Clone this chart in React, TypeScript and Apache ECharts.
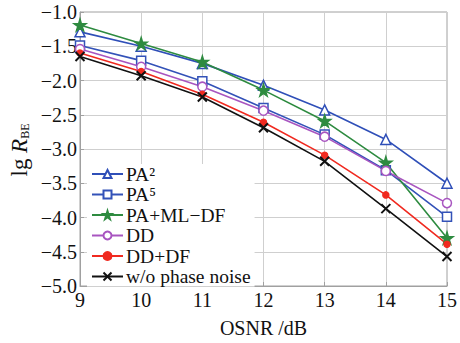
import React, { useEffect, useRef } from "react";
import * as echarts from "echarts";

const osnr = [9, 10, 11, 12, 13, 14, 15];
const pa2 = [-1.29, -1.5, -1.75, -2.07, -2.43, -2.86, -3.5];
const pa5 = [-1.49, -1.71, -2.01, -2.4, -2.79, -3.31, -3.99];
const paMlDf = [-1.19, -1.46, -1.73, -2.14, -2.59, -3.2, -4.3];
const dd = [-1.54, -1.8, -2.09, -2.44, -2.82, -3.32, -3.79];
const ddDf = [-1.6, -1.87, -2.2, -2.61, -3.09, -3.67, -4.39];
const noPn = [-1.65, -1.93, -2.24, -2.69, -3.18, -3.87, -4.57];

const names = ["PA²", "PA⁵", "PA+ML−DF", "DD", "DD+DF", "w/o phase noise"];
const FONT = "'Liberation Serif', 'DejaVu Serif', serif";

const STAR = "path://M50,0 L61,35 L98,35 L68,57 L79,91 L50,70 L21,91 L32,57 L2,35 L39,35 Z";
const CROSS = "path://M0,0 L10,10 M10,0 L0,10";

export default function App() {
  const ref = useRef<HTMLDivElement>(null);
  useEffect(() => {
    const chart = echarts.init(ref.current!, null, { renderer: "svg" });
    const mk = (name: string, data: number[], color: string, symbol: string, size: number, empty: boolean, extra: any = {}) => ({
      name,
      type: "line",
      data: osnr.map((x, i) => [x, data[i]]),
      symbol,
      symbolSize: size,
      showSymbol: true,
      lineStyle: { color, width: 1.6 },
      itemStyle: {
        color: empty ? "#ffffff" : color,
        borderColor: color,
        borderWidth: 1.5,
        ...extra,
      },
      z: 3,
    });
    chart.setOption({
      animation: false,
      backgroundColor: "#ffffff",
      grid: {
        left: 80,
        right: 7,
        top: 12,
        bottom: 52,
        show: true,
        borderColor: "#a0a0a0",
        borderWidth: 1,
      },
      xAxis: {
        type: "value",
        min: 9,
        max: 15,
        interval: 1,
        name: "OSNR /dB",
        nameLocation: "middle",
        nameGap: 32,
        nameTextStyle: { fontFamily: FONT, fontSize: 20, color: "#111" },
        axisLine: { show: true, lineStyle: { color: "#a0a0a0" } },
        axisTick: { show: true, inside: true, length: 4, lineStyle: { color: "#a0a0a0" } },
        axisLabel: { fontFamily: FONT, fontSize: 20, color: "#111", margin: 4 },
        splitLine: { show: true, lineStyle: { color: "#cfcfcf", width: 1 } },
      },
      yAxis: {
        type: "value",
        min: -5,
        max: -1,
        interval: 0.5,
        axisLine: { show: true, lineStyle: { color: "#a0a0a0" } },
        axisTick: { show: true, inside: true, length: 4, lineStyle: { color: "#a0a0a0" } },
        axisLabel: {
          fontFamily: FONT,
          fontSize: 20,
          color: "#111",
          margin: 3,
          formatter: (v: number) => v.toFixed(1).replace("-", "−"),
        },
        splitLine: { show: true, lineStyle: { color: "#cfcfcf", width: 1 } },
      },
      legend: {
        orient: "vertical",
        left: 87,
        top: 164,
        padding: [0, 4, 0, 4],
        backgroundColor: "#ffffff",
        itemWidth: 31,
        itemHeight: 10,
        itemGap: 0.5,
        textStyle: { fontFamily: FONT, fontSize: 19.5, color: "#111", padding: [0, 0, 0, -2] },
        data: names,
      },
      graphic: [
        {
          type: "text",
          x: 19,
          y: 150,
          rotation: Math.PI / 2,
          style: {
            text: "{a|lg }{b|R}{c|BE}",
            rich: {
              a: { fontFamily: FONT, fontSize: 23, fill: "#111" },
              b: { fontFamily: FONT, fontSize: 23, fontStyle: "italic", fill: "#111" },
              c: { fontFamily: FONT, fontSize: 12, fill: "#111", verticalAlign: "bottom", padding: [9, 0, 0, 0] },
            },
            align: "center",
            verticalAlign: "middle",
          },
        },
      ],
      series: [
        mk(names[0], pa2, "#2f4fb8", "triangle", 10, true),
        mk(names[1], pa5, "#3352b8", "rect", 9, true),
        mk(names[2], paMlDf, "#2e8b40", STAR, 12, false),
        mk(names[3], dd, "#a855c0", "circle", 9, true),
        mk(names[4], ddDf, "#f02a20", "circle", 6, false),
        mk(names[5], noPn, "#111111", CROSS, 9, false, { borderWidth: 2 }),
      ],
    });
    return () => chart.dispose();
  }, []);
  return <div ref={ref} style={{ width: 460, height: 343, position: "absolute", left: 0, top: 0 }} />;
}
